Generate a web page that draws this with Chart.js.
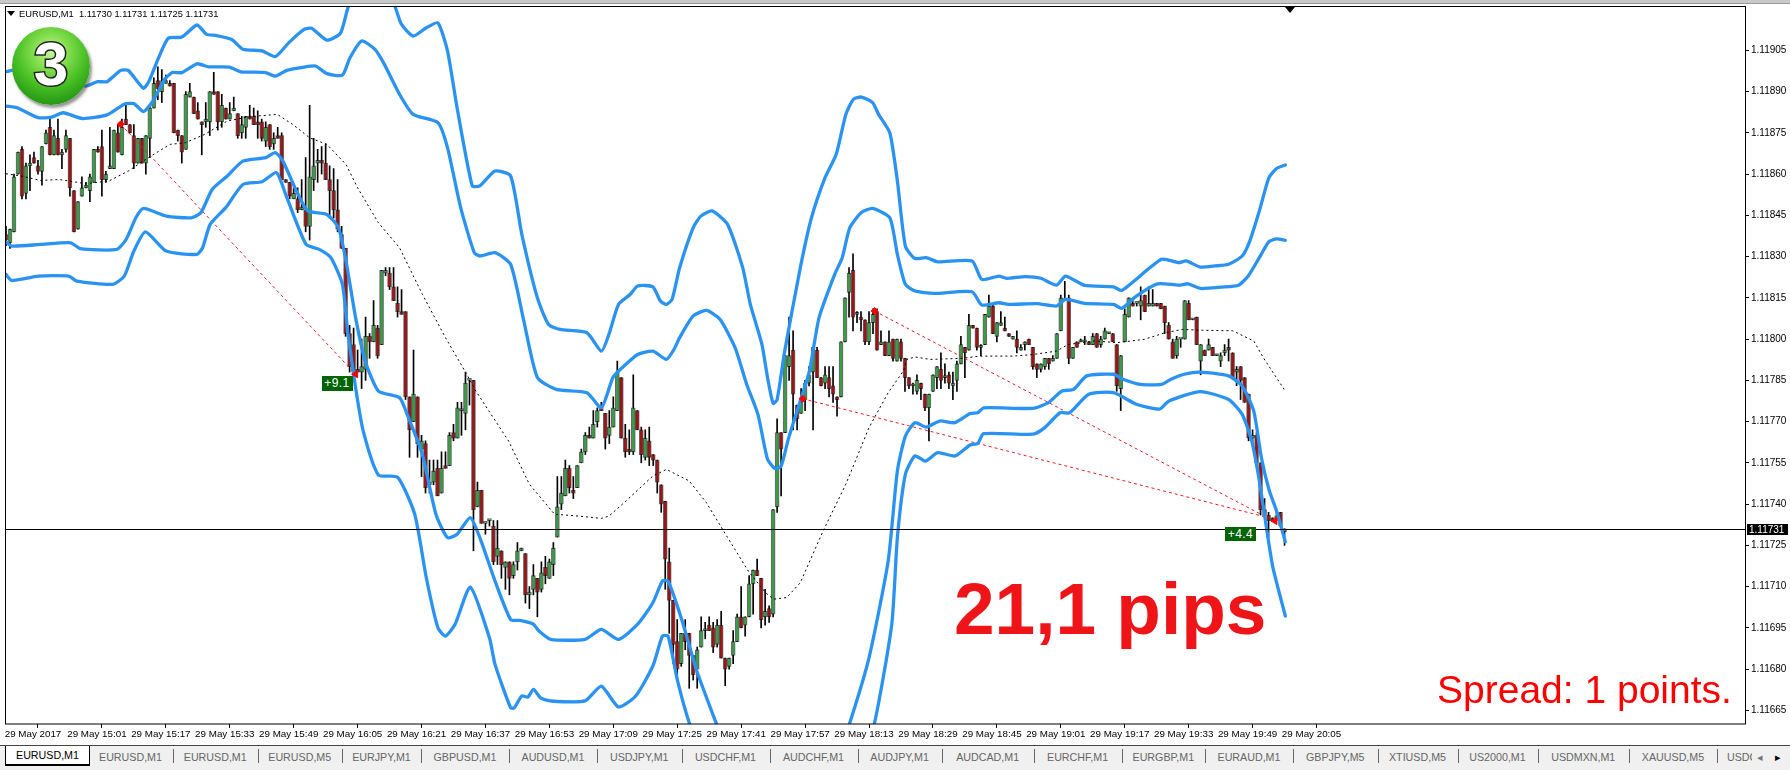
<!DOCTYPE html>
<html><head><meta charset="utf-8">
<script src="https://cdn.jsdelivr.net/npm/chart.js@4"></script>
<style>
html,body{margin:0;padding:0;background:#fff;width:1790px;height:770px;overflow:hidden;font-family:"Liberation Sans",Arial,sans-serif}
#c{position:absolute;left:0;top:0}
.abs{position:absolute;white-space:nowrap}
#strip{position:absolute;left:0;top:0;width:1790px;height:3px;background:#c9c9c9;border-bottom:1px solid #9a9a9a}
#tabbar{position:absolute;left:0;top:745px;width:1790px;height:25px;background:#f0f0f0;border-top:1px solid #444}
.tab{position:absolute;top:750px;height:14px;font-size:10.7px;line-height:14px;color:#666;text-align:center}
.sep{position:absolute;top:749px;width:1px;height:14px;background:#666}
#active{position:absolute;left:5px;top:746px;width:83px;height:18px;background:#fff;border:1px solid #000;border-top:0;border-bottom-width:2px;font-size:10.7px;line-height:18px;text-align:center;color:#000}
#badge{position:absolute;left:12px;top:27px;width:78px;height:78px;border-radius:50%;background:radial-gradient(circle at 50% 32%,#c8f5a0 0%,#7fdc4a 28%,#45bd22 55%,#1f8f12 85%,#2a7a1a 100%);box-shadow:2px 3px 3px rgba(60,60,60,.55)}
#badge span{position:absolute;left:0;top:-2px;width:78px;text-align:center;font:bold 62px/78px "Liberation Sans",Arial,sans-serif;color:#fff;-webkit-text-stroke:3px #222;paint-order:stroke fill}
.trade{position:absolute;background:#006400;color:#fff;font-size:12px;text-align:center;letter-spacing:.4px}
</style></head><body>
<canvas id="c" width="1790" height="770"></canvas>
<div id="strip"></div>
<div class="abs" style="left:7px;top:11px;width:0;height:0;border-left:4px solid transparent;border-right:4px solid transparent;border-top:5px solid #000"></div>
<div class="abs" id="hdr" style="left:19px;top:9px;font-size:9.3px;line-height:11px;color:#000"></div>
<div class="abs" style="left:1285px;top:7px;width:0;height:0;border-left:5px solid transparent;border-right:5px solid transparent;border-top:6px solid #000"></div>
<div id="badge"><span>3</span></div>
<div class="trade" style="left:321.5px;top:376px;width:31px;height:15px;line-height:15px">+9.1</div>
<div class="trade" style="left:1225px;top:527px;width:31px;height:14px;line-height:14px">+4.4</div>
<div class="abs" style="left:954px;top:569px;font:bold 73px/80px 'Liberation Sans',Arial,sans-serif;color:#ee1418">21,1 pips</div>
<div class="abs" style="left:1437px;top:668px;font:39px/44px 'Liberation Sans',Arial,sans-serif;color:#f00">Spread: 1 points.</div>
<div id="tabbar"></div>
<div id="tabs"></div>
<script>
// All prices in points above 1.11000 (838 = 1.11838)
const PRICE_BASE = 1.11;
const opens = [838,835,839,860,869,853,863,866,863,861,871,877,867,873,867,869,873,854,840,852,855,854,857,869,870,858,862,862,875,867,880,878,874,864,873,864,873,884,894,890,893,893,893,876,874,869,888,888,883,879,879,879,890,890,879,884,880,883,882,875,877,881,881,879,879,872,878,871,874,874,858,857,851,851,847,847,841,858,864,865,864,858,854,847,838,833,802,798,789,788,789,801,799,804,798,824,824,819,813,810,810,779,770,779,760,762,747,748,753,744,754,754,766,764,774,773,785,785,739,745,733,734,732,721,723,717,719,714,719,723,722,707,709,713,709,717,713,718,728,740,743,753,745,746,755,759,765,764,770,775,773,765,768,774,786,764,760,759,774,767,757,763,758,756,747,741,719,705,690,682,693,693,685,680,688,694,696,695,689,696,684,681,685,690,699,696,699,711,716,713,699,702,700,739,766,766,790,796,776,773,778,784,788,796,786,784,786,783,779,779,799,817,825,809,808,807,799,806,810,798,799,794,800,792,799,793,786,783,781,784,780,775,781,786,789,786,787,783,785,791,797,796,805,804,797,798,808,812,801,805,804,802,800,800,796,798,800,797,791,789,790,793,792,793,803,814,815,793,799,799,799,799,798,802,798,800,802,802,798,782,799,808,813,813,812,816,812,812,813,813,812,805,799,794,800,800,813,807,808,792,796,796,797,794,792,795,797,795,788,790,786,780,764,765,755,738,736,735,735,737,730];
const highs = [841,840,860,868,870,864,867,868,865,870,876,880,876,880,869,876,873,854,850,859,857,860,869,870,876,861,877,876,878,880,885,878,878,873,873,874,885,895,899,898,896,894,893,876,874,890,893,888,886,879,886,890,897,890,889,884,886,888,882,881,881,885,884,883,880,879,878,875,877,875,858,857,855,855,858,866,885,873,869,870,871,863,862,858,841,833,805,804,796,800,808,802,814,805,825,826,826,826,819,818,810,779,796,779,765,763,756,756,756,759,759,766,769,777,777,788,785,785,748,745,733,734,734,734,723,719,719,719,726,724,722,710,718,713,719,721,720,726,750,750,756,754,750,754,760,766,768,774,775,777,773,774,779,792,786,769,767,787,774,768,767,768,758,756,747,741,724,705,698,693,698,693,685,688,699,697,699,697,698,701,684,684,694,700,710,699,714,716,720,713,709,703,738,771,766,794,808,803,776,782,785,790,797,797,786,790,790,790,779,799,815,826,831,810,810,807,810,811,811,803,799,803,800,800,800,793,786,784,787,784,780,780,787,790,795,791,788,788,792,801,797,809,805,804,798,809,816,813,806,810,808,802,801,803,798,799,800,797,791,791,793,793,794,802,816,821,816,797,799,800,801,799,802,802,801,804,802,802,798,794,811,815,815,813,819,816,819,818,813,813,812,806,800,801,800,814,814,807,808,798,796,800,797,794,795,798,800,795,790,790,786,780,767,766,755,742,737,735,738,737,731];
const lows = [834,833,839,860,851,851,854,864,860,856,871,867,867,867,862,868,852,839,840,852,855,850,857,868,852,857,862,862,868,867,878,875,862,864,864,860,866,884,887,886,893,892,875,872,864,869,888,882,880,867,877,874,889,876,877,880,880,883,873,873,873,880,878,873,872,870,869,869,873,858,857,851,851,846,847,839,836,854,857,860,858,844,844,839,833,801,788,787,788,782,785,793,799,793,798,823,818,814,808,809,778,757,770,757,750,744,744,747,743,744,753,754,763,764,765,767,776,723,739,733,729,732,718,718,713,709,707,713,716,723,704,702,707,699,708,711,713,714,728,738,743,744,742,746,755,758,764,764,768,774,760,762,768,774,764,757,758,758,767,755,756,754,754,744,737,709,693,682,677,681,687,673,676,673,688,691,694,686,688,684,674,680,682,690,695,692,699,700,714,695,696,697,699,737,743,766,785,767,767,773,774,783,767,786,783,782,779,777,772,779,799,808,803,806,803,798,798,802,796,798,794,794,792,792,792,781,782,780,780,778,774,763,781,782,782,784,782,778,781,791,786,796,804,796,794,798,808,802,799,805,803,801,800,795,796,796,798,789,786,788,789,789,792,793,803,814,791,793,797,799,798,798,798,797,797,800,802,799,781,774,799,808,812,812,807,810,812,812,812,811,802,800,793,793,797,800,807,807,798,787,794,796,794,794,790,794,792,786,783,778,777,763,762,755,736,735,728,734,734,732,725];
const closes = [836,840,859,868,852,863,864,864,861,870,875,867,874,867,868,874,855,839,850,855,856,859,869,868,858,860,863,876,868,877,878,875,864,873,864,874,884,893,891,894,894,892,875,874,868,889,890,882,880,878,880,890,889,879,885,880,882,884,874,878,881,880,878,878,873,877,870,873,873,858,857,852,853,847,848,841,859,863,865,864,858,854,847,840,833,802,790,788,788,790,801,799,805,794,825,825,819,814,810,809,779,767,780,762,763,746,748,752,743,753,753,765,764,775,774,784,785,738,745,733,733,734,719,724,718,719,713,718,723,724,707,708,714,708,715,714,719,724,739,744,753,746,744,754,759,765,764,769,774,774,764,768,775,788,764,759,759,775,767,758,764,757,756,748,740,720,705,689,680,693,690,685,678,687,694,694,694,688,696,684,680,684,690,699,695,699,711,716,714,698,701,699,738,766,760,794,794,780,771,777,784,787,797,786,783,787,782,780,778,799,815,824,808,809,807,799,806,809,796,799,794,799,793,800,793,786,783,783,785,782,775,780,787,790,785,786,784,784,791,798,795,805,804,797,797,809,812,802,806,806,803,801,801,797,797,799,798,790,789,791,793,791,793,802,815,814,793,797,797,799,799,798,801,797,800,803,802,799,783,794,809,815,812,813,814,810,813,813,812,811,806,800,793,800,800,814,807,807,798,798,794,798,794,794,794,796,796,786,789,785,777,764,765,755,738,736,734,734,735,732,731];

// Band lines: [bar index, points above 1.11000]
const bandOuterUpper = [[0,897.2],[4.7,898.7],[10.5,898.1],[16.2,893.8],[20,892],[22.9,893.6],[25.3,893.6],[28.7,897.7],[30.6,897.7],[34.4,891.2],[35.8,893.8],[38.2,902.3],[40.6,909.4],[44,909.8],[47.8,914.2],[50.2,910.8],[52.6,910.4],[56.4,909],[59.3,905.4],[64.1,904.8],[67.4,902.7],[70.8,907.8],[74.6,912.6],[76.5,913],[80.3,908.7],[83.7,911.2],[85.6,920.5],[90,935],[94,935],[97.5,920.5],[99,914.4],[101.9,910.2],[105.2,913.2],[108.1,915],[110.5,904.8],[112.9,884.1],[116.7,855.7],[118.6,855.7],[122.4,861.1],[126.3,859.3],[129.1,838.1],[133,815],[135.8,805.3],[138.7,803.5],[145.4,802.3],[149,795.6],[150.9,801.7],[153.3,812.6],[156.2,816.2],[158.1,819.3],[161.9,819],[163.8,813.8],[165.3,812.6],[166.7,814.4],[168.6,825.9],[172,840.5],[173.9,844.7],[176.7,846.6],[180.6,841.7],[184.4,825.9],[186.3,812.6],[189.2,798.1],[190.6,786],[192,776.6],[193,778],[194.9,795.6],[198.8,825.9],[201.6,844.1],[205,858.7],[207.8,867.2],[210.2,881.7],[212.1,887.2],[214.1,888],[216.9,886],[218.4,881.7],[221.2,875],[223.1,857.5],[225.1,833.8],[227.5,829.3],[230.3,829.6],[233.2,828.1],[241.8,828.4],[244.2,821.7],[248.5,822.9],[250.4,822.1],[255.2,822.7],[259,822.1],[262.9,819.6],[265.2,822.9],[270,819.5],[277.2,819],[279.3,817.7],[289.2,829],[293.5,827.8],[295.4,828.4],[298.9,826.2],[302.7,826.6],[306,827.2],[309.4,830.2],[311.3,835.6],[313.7,846.6],[316.1,858.7],[318,862],[320.2,863.3]];
const bandInnerUpper = [[0,884.7],[2.8,884.1],[8.1,880.5],[11.4,880.7],[14.3,882.3],[19.1,880.2],[25.3,881.5],[29.6,885.4],[32,885.6],[34.4,882.7],[36.8,886.6],[39.7,894.4],[41.6,896.9],[44,896.9],[47.8,900.1],[50.7,899],[55.9,898.9],[58.8,897.2],[65,896.9],[67.4,895.6],[70.3,897.7],[74.6,898.9],[77.5,899.3],[80.3,896.5],[84.2,896],[86.1,902.3],[89,908.4],[92.3,905.4],[94.7,899.9],[98.5,889],[101.9,881.7],[108.1,878.7],[110.5,869.6],[113.8,847.8],[117.2,831.4],[118.6,830.2],[122.4,831.4],[126.3,827.2],[129.6,806.6],[133,786],[137.7,781.7],[145.4,780.5],[149,775],[151.9,786],[153.8,789],[158.1,794.4],[161.9,795.6],[165.3,792.6],[167.2,796.3],[168.6,800.5],[172,808.4],[175.3,810.4],[178.7,807.2],[182.5,796.8],[185.4,783.5],[188.2,772.6],[190.6,756.3],[192.5,752.9],[194,753.8],[195.9,764.1],[198.8,777.5],[201.1,788.4],[203.5,807.8],[207.4,823.5],[209.3,829.6],[211.2,840.5],[214.1,846],[216.9,847.5],[221.2,844.1],[223.1,830.8],[225.1,819.9],[227.5,817.5],[232.2,816.6],[241.8,817.2],[244.2,812.4],[248.5,813.2],[250.9,812.6],[258.1,812.9],[262.9,812],[265.2,814.4],[270,813],[277.2,812.6],[279.3,811.2],[282.9,815.6],[288.2,820.1],[293.5,819.6],[295.9,820.1],[298.9,818.4],[304.2,818.9],[308.5,819.6],[310.9,822.9],[313.7,829.6],[316.1,835.4],[318,836.4],[320.2,835.9]];
const bandInnerLower = [[0,835.4],[1.4,833.8],[8.6,834.4],[16.2,835],[18.6,832.9],[27.7,832.6],[30.1,836.3],[32.5,844.1],[34.4,847.5],[40.1,844.7],[46.4,844.1],[48.8,846],[51.6,854.4],[55.4,859.3],[59.3,864.7],[65,866],[67.4,867.8],[69.3,864.7],[72.7,853.8],[75.5,846.6],[80.3,845.3],[83.2,840.5],[85.1,828.4],[87.5,807.8],[89.9,792],[93.2,781.1],[98.5,778.7],[100.4,772.6],[104.2,758.1],[107.6,736.3],[110.5,727.8],[112.9,729],[116.2,735.1],[118.6,727.8],[122.4,712],[126.3,698],[128.6,697.7],[132,696.3],[133.4,693.8],[136.3,690.8],[144.9,690.8],[149,694.4],[153.3,690.8],[158.1,696.3],[161.9,704.1],[164.3,712],[165.7,712],[169.1,698.1],[172.9,679.3],[177.7,660.5],[183,640],[190,625],[203,625],[211.2,660.5],[216,684.1],[220.8,719.3],[223.1,752],[225.1,764.7],[227.5,769.6],[230.3,768],[233.7,770.2],[237.5,769.6],[241.3,772.9],[243.2,773.2],[244.7,775],[257.1,774.8],[260.9,776.9],[264.3,781.1],[267.2,781.7],[270.5,786.6],[277.2,787.2],[279.6,785.4],[283.9,783.5],[289.2,783.5],[291.6,785.4],[294.9,787.2],[298.9,788],[306,786.6],[309.4,782.9],[312.3,773.8],[314.2,756.9],[316.1,745.3],[318,737.5],[320.2,726.3]];
const bandOuterLower = [[0,823.5],[1.4,821.3],[8.1,822.9],[15.7,822.9],[17.7,821.1],[26.7,819.9],[29.6,822.9],[32,832],[34.9,839],[40.1,832],[47.8,830.8],[49.2,833.2],[51.1,841.7],[55,847.8],[59.3,856.2],[64.1,857.2],[67.7,860.5],[70.3,851.4],[75.1,834.4],[78.4,832.6],[81.3,829.6],[84.2,819.9],[85.6,801.7],[87.5,782.3],[89.4,766.6],[93.2,750.6],[98,749.8],[102.3,736.3],[105.2,713.2],[108.1,695],[110,692],[112.4,696.3],[116.2,709.8],[121,691.4],[122.4,681.7],[126.3,665.9],[127.2,665.9],[129.1,670.2],[130.6,669.8],[132,672.6],[133.9,669.4],[136.3,668.4],[144.9,668.4],[149,673.8],[153.3,666.2],[157.6,670.2],[161.9,681.1],[164.3,692],[165.7,692],[168.1,675.6],[171,660.5],[175,645],[185,620],[205,620],[213,640],[217.4,660.5],[221.7,696.3],[223.1,727.8],[225.1,750.8],[227.5,757.5],[230.1,755.6],[233.2,758.7],[237.5,757.5],[241.3,761.5],[243.2,762],[244.7,765.6],[257.1,765.4],[260,767.8],[263.8,773.2],[266.2,773.2],[271,779.9],[277.2,780.5],[282.9,776.3],[288.7,774.5],[291.1,777.5],[298.9,780.9],[306,778],[309.4,772.6],[311.8,762.9],[313.7,748.4],[315.6,730.2],[317.1,716.9],[320.2,699.3]];
const bandMiddle = [[0,860.1],[3.8,859.3],[8.6,857.7],[13.4,858],[20,856.5],[25.8,857.5],[30.6,861.1],[36.3,866.6],[41.1,870.8],[44.9,871.4],[49.7,874.4],[55.4,879.3],[61.2,880.9],[67.9,881.7],[71.7,878.1],[76,873.2],[80.3,870.8],[85.1,863.5],[88,855],[93.2,842.3],[98.5,833.2],[104.2,816.3],[110,800.5],[115.2,787.5],[117.6,781.1],[125.8,762.9],[131,747.2],[137.3,736.3],[143.5,735.6],[149,734.8],[150.9,735.6],[154.7,740.5],[161.9,750.2],[165.3,752.6],[171,748.4],[175.3,740.5],[179.6,730.2],[185.8,715.6],[190.1,707.8],[192.1,705.4],[195.4,706],[198.8,711.4],[204.5,730.2],[210.2,747.2],[216,767.8],[220.8,780.5],[224.6,788.4],[225.5,792.6],[227.5,793.5],[231.3,792.6],[239.4,793],[243.7,793.8],[252.3,793.8],[257.1,794.4],[262.9,795.6],[265.8,798],[272.4,799.3],[278.2,798.7],[284.9,799.9],[290.1,802.3],[294.4,803.5],[299.4,803.2],[307,803],[312.3,799.3],[314.7,793.2],[319.9,781.7]];

// Closed trades: [entry bar, entry points], [exit bar, exit points]
const tradeA = [[28.7,878.1],[87.5,787.2]];
const tradeB = [[217.4,810.2],[315.5,735.2]];
const tradeC = [[199.4,778.3],[315,735.4]];
const exitMark = [[87.5,787.2],[317.6,733.8]];

const lastPrice = 1.11731;
const xTickLabels = ["29 May 2017","29 May 15:01","29 May 15:17","29 May 15:33","29 May 15:49","29 May 16:05","29 May 16:21","29 May 16:37","29 May 16:53","29 May 17:09","29 May 17:25","29 May 17:41","29 May 17:57","29 May 18:13","29 May 18:29","29 May 18:45","29 May 19:01","29 May 19:17","29 May 19:33","29 May 19:49","29 May 20:05"];
const xTickBars = [0,16,32,48,64,80,96,112,128,144,160,176,192,208,224,240,256,272,288,304,320];
const yTickValues = [1.11665,1.1168,1.11695,1.1171,1.11725,1.1174,1.11755,1.1177,1.11785,1.118,1.11815,1.1183,1.11845,1.1186,1.11875,1.1189,1.11905];
const tabNames = ["EURUSD,M1","EURUSD,M1","EURUSD,M5","EURJPY,M1","GBPUSD,M1","AUDUSD,M1","USDJPY,M1","USDCHF,M1","AUDCHF,M1","AUDJPY,M1","AUDCAD,M1","EURCHF,M1","EURGBP,M1","EURAUD,M1","GBPJPY,M5","XTIUSD,M5","US2000,M1","USDMXN,M1","XAUUSD,M5"];
const activeTab = "EURUSD,M1";
const headerText = "EURUSD,M1  1.11730 1.11731 1.11725 1.11731";

const px = p => PRICE_BASE + p/100000;
const xy = a => a.map(([x,y]) => ({x, y:px(y)}));

const GREEN='#3c9a48', RED='#9a1616', BLUE='#2a93f2';
const isUp = i => closes[i] >= opens[i];
const wicks = highs.map((h,i)=>({x:i,y:[px(lows[i]),px(h)]}));
const bodies = opens.map((o,i)=>({x:i,y:[px(o),px(closes[i])]}));
const band = a => ({type:'line',data:xy(a),borderColor:BLUE,borderWidth:3.3,pointRadius:0,tension:0.2,order:2,borderCapStyle:'round',borderJoinStyle:'round'});
const trade = a => ({type:'line',data:xy(a),borderColor:'#ee1c24',borderWidth:1,borderDash:[3,3],pointRadius:0,order:3});

const framePlugin = {
  id:'frame',
  afterDraw(ch){
    const {ctx,chartArea:a,scales:{y}}=ch;
    ctx.save();
    ctx.strokeStyle='#000';ctx.lineWidth=1;
    ctx.strokeRect(a.left+.5,a.top-.5,a.width,a.height+.5);
    const py=Math.round(y.getPixelForValue(lastPrice))+.5;
    ctx.beginPath();ctx.moveTo(a.left,py);ctx.lineTo(a.right,py);ctx.stroke();
    ctx.fillStyle='#000';ctx.fillRect(a.right+2,py-5.5,41,11);
    ctx.fillStyle='#fff';ctx.font='10px "Liberation Sans"';ctx.textAlign='left';ctx.textBaseline='middle';
    ctx.fillText(lastPrice.toFixed(5),a.right+4,py+.5);
    ctx.restore();
  }
};

new Chart(document.getElementById('c'),{
  type:'bar',
  data:{datasets:[
    {type:'bar',data:wicks,backgroundColor:'#000',barThickness:1,grouped:false,order:6,minBarLength:1},
    {type:'bar',data:bodies,backgroundColor:c=>isUp(c.dataIndex)?GREEN:RED,borderColor:'rgba(0,0,0,.6)',borderWidth:1,borderSkipped:false,barThickness:4,grouped:false,order:5,minBarLength:2},
    {type:'line',data:xy(bandMiddle),borderColor:'#000',borderWidth:1,borderDash:[2,3],pointRadius:0,order:4},
    trade(tradeA),trade(tradeB),trade(tradeC),
    band(bandOuterUpper),band(bandInnerUpper),band(bandInnerLower),band(bandOuterLower),
    {type:'scatter',data:xy([tradeA[0],tradeB[0],tradeC[0]]),pointStyle:'rectRot',pointRadius:3.5,backgroundColor:'#f00',borderColor:'#f00',order:1},
    {type:'scatter',data:xy(exitMark),pointStyle:'triangle',rotation:-90,pointRadius:4,backgroundColor:'#f00',borderColor:'#f00',order:1}
  ]},
  options:{
    responsive:false,animation:false,devicePixelRatio:1,
    layout:{padding:{left:3,top:7,right:0,bottom:0}},
    plugins:{legend:{display:false},tooltip:{enabled:false}},
    scales:{
      x:{type:'linear',min:-0.25,max:435.25,offset:false,
        afterFit(s){s.height=46;s.paddingLeft=0;s.paddingRight=0;},
        afterBuildTicks(s){s.ticks=xTickBars.map(v=>({value:v}));},
        grid:{drawOnChartArea:false,drawTicks:true,tickLength:4,color:'#000'},
        border:{display:false},
        ticks:{autoSkip:false,maxRotation:0,minRotation:0,padding:0,labelOffset:27,color:'#000',font:{family:'Liberation Sans',size:9.8},callback:(v,i)=>xTickLabels[i]}},
      y:{type:'linear',position:'right',min:1.1166002,max:1.1192075,
        afterFit(s){s.width=45;s.paddingTop=0;s.paddingBottom=0;},
        afterBuildTicks(s){s.ticks=yTickValues.map(v=>({value:v}));},
        grid:{drawOnChartArea:false,drawTicks:true,tickLength:4,color:'#000'},
        border:{display:false},
        ticks:{autoSkip:false,padding:2,color:'#000',font:{family:'Liberation Sans',size:10},callback:v=>v.toFixed(5)}}
    }
  },
  plugins:[framePlugin]
});

document.getElementById('hdr').textContent=headerText.replace('  ','\u00a0\u00a0');
const seps=[88,173,257.5,342,421,509,597,681.5,769.5,857.5,941.7,1033.6,1121.6,1205,1293,1377.5,1457.5,1537.5,1629,1717];
const host=document.getElementById('tabs');
let html='<div id="active">'+activeTab+'</div>';
tabNames.forEach((n,i)=>{
  html+='<div class="tab" style="left:'+seps[i]+'px;width:'+(seps[i+1]-seps[i])+'px">'+n+'</div>';
  html+='<div class="sep" style="left:'+seps[i+1]+'px"></div>';
});
html+='<div class="tab" style="left:1727px;width:25px;overflow:hidden;text-align:left">USDCHF,M1</div>';
html+='<div class="tab" style="left:1755px;width:10px;color:#777">\u25C2</div><div class="tab" style="left:1773px;width:10px;color:#000">\u25B8</div>';
host.innerHTML=html;
</script>
</body></html>
